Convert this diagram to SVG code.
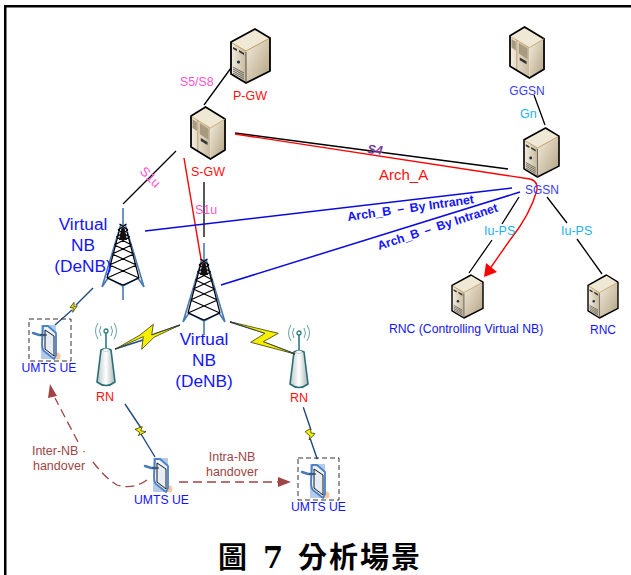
<svg xmlns="http://www.w3.org/2000/svg" xmlns:xlink="http://www.w3.org/1999/xlink" width="631" height="575" viewBox="0 0 631 575">
<style>
text{font-family:"Liberation Sans",Arial,sans-serif}
.red{fill:#ff1010}.blue{fill:#1414ff}.sn{fill:#3a3aff}.pink{fill:#ff55cc}.cyan{fill:#1eb0f0}.brown{fill:#a04545}
.mid{text-anchor:middle}
.bk{stroke:#000;stroke-width:1.3;fill:none}
.rd{stroke:#ff0000;stroke-width:1.4;fill:none}
.bl{stroke:#0a0ae0;stroke-width:1.5;fill:none}
.ho{stroke:#a04545;stroke-width:1.3;fill:none;stroke-dasharray:9 5}
.bolt{stroke:#1f4a80;stroke-width:1.4;fill:none}
.boltf{fill:#f4f000;stroke:#3a3a10;stroke-width:.8;stroke-linejoin:round}
</style>
<defs>
<linearGradient id="rf" x1="0" y1="0" x2="1" y2="1"><stop offset="0" stop-color="#f4eddc"/><stop offset="1" stop-color="#b0a080"/></linearGradient>
<linearGradient id="lf" x1="0" y1="0" x2="1" y2="0"><stop offset="0" stop-color="#f3eee0"/><stop offset="1" stop-color="#c8b99c"/></linearGradient>
<linearGradient id="rn" x1="0" y1="0" x2="1" y2="0"><stop offset="0" stop-color="#b9c4c4"/><stop offset=".5" stop-color="#fff"/><stop offset="1" stop-color="#a8b4b4"/></linearGradient>
<symbol id="srvA" viewBox="0 0 39 54" preserveAspectRatio="none" overflow="visible">
<path d="M0 13 24 0 39 9 15 22Z" fill="#efe8d4"/>
<path d="M0 13 15 22V54L0 45Z" fill="url(#lf)"/>
<path d="M15 22 39 9V42L15 54Z" fill="url(#rf)"/>
<path d="M1 14 15 22 39 9" fill="none" stroke="#c09a60" stroke-width="1"/>
<path d="M0 13 24 0 39 9V42L15 54 0 45Z" fill="none" stroke="#000" stroke-width="1.800" stroke-linejoin="round"/>
<path d="M15 23V54" fill="none" stroke="#333" stroke-width=".8"/>
<path d="M2 18 6 20V22L2 20ZM8 21 13 24V26L8 23Z" fill="#333"/><circle cx="7.500" cy="33" r="1.600" fill="#234"/>
<path d="M2 38 13 44M2 40 13 46M2 42 13 48M2 44 13 50" stroke="#444" stroke-width=".8"/>
</symbol>
<symbol id="srvB" viewBox="0 0 36 52" preserveAspectRatio="none" overflow="visible">
<path d="M0 9 15 0 35 12 20 21Z" fill="#efe8d4"/>
<path d="M0 9 20 21V52L0 40Z" fill="url(#lf)"/>
<path d="M20 21 35 12V43L20 52Z" fill="url(#rf)"/>
<path d="M7 13V44" stroke="#c8b088" stroke-width="1.500"/>
<path d="M1.500 12 6 15V24L1.500 21ZM9 16 18 22V33L9 27Z" fill="#a89a80"/>
<path d="M10 31 17 35V38L10 34Z" fill="#333"/>
<path d="M0 9 15 0 35 12V43L20 52 0 40Z" fill="none" stroke="#000" stroke-width="1.800" stroke-linejoin="round"/>
<path d="M1 10 20 21 35 12" fill="none" stroke="#c09a60" stroke-width=".8"/>
</symbol>
<g id="tower" fill="none">
<path d="M0 0V30M-21 79-2 16M21 79 2 16M-15 70 0 78 15 70M-21 79-15 70M21 79 15 70M0 78V92" stroke="#4a7ab5" stroke-width="1.600"/>
<path d="M-3.500 16 5 22M3.500 16-5 22M-5 22 6.700 29M5 22-6.700 29M-6.700 29 8.600 37M6.700 29-8.600 37M-8.600 37 10.800 46M8.600 37-10.800 46M-10.800 46 13.500 57M10.800 46-13.500 57M-13.500 57 16 70M13.500 57-16 70M-16 70 0 77 16 70M-16 70-3 20M16 70 3 20" stroke="#000" stroke-width="1.200"/>
<path d="M-1.500 20H1.500L4 32H-4Z" fill="#111"/>
</g>
<g id="ant">
<path d="M0 4V20" stroke="#2c7a85" stroke-width="1.600"/>
<circle cx="0" cy="2" r="2" fill="none" stroke="#2c7a85" stroke-width="1.300"/>
<path d="M-5-3Q-8 2-5 7M5-3Q8 2 5 7M-8-6Q-13 2-8 10M8-6Q13 2 8 10" fill="none" stroke="#6aa0a8" stroke-width="1"/>
<path d="M-5 21Q0 18 5 21L9 53Q0 60-9 53Z" fill="url(#rn)" stroke="#2c6f78" stroke-width="1.600"/>
<ellipse cx="0" cy="21" rx="3" ry="1.500" fill="#fff" stroke="#8aa" stroke-width=".5"/>
</g>
<g id="ue">
<rect x="0" y="1" width="15" height="34" fill="#b4cbea"/>
<ellipse cx="16" cy="32" rx="3.500" ry="3.500" fill="#f6c8a0"/>
<path d="M2 2H7L15 9V31L13 35 3 27Q1 25 1 20Z" fill="#eef3f8" stroke="#4a80c8" stroke-width="1.800" stroke-linejoin="round"/>
<path d="M4 6 13 12V32L4 25Z" fill="#e6edf5" stroke="#000" stroke-width=".9"/>
<path d="M-8 9-2 11H4" stroke="#4a7ab5" stroke-width="2.600" fill="none" stroke-linecap="round"/>
<path d="M-1 11H6" stroke="#333" stroke-width="1" fill="none"/>
</g>
</defs>
<rect width="631" height="575" fill="#fff"/>
<g id="frame" fill="#000"><rect x="4" y="5" width="627" height="2.500"/><rect x="4" y="5" width="2.500" height="570"/></g>
<g id="connectors">
<path class="bk" d="M231 68 204 105M176 151 123 204M204 182V237M235 133 508 169M534 95 545 125M519 197 502 224M492 240 469 273M547 197 567 223M577 239 602 274"/>
<path class="rd" d="M184 158 202 265M235 134 530 179Q538 181 537 190Q530 215 510 240L489 270"/>
<path d="M484 277 486 263 497 272Z" fill="#ff0000"/>
<path class="bl" d="M145 231 512 188M221 285 520 192"/>
<path class="ho" d="M147 480Q133 490 117 485Q105 478 93 462M78 442 55 398"/>
<path d="M50 384 57 396 48 398Z" fill="#a04545"/>
<path class="ho" d="M179 482H278"/>
<path d="M291 482 278 477V487Z" fill="#a04545"/>
</g>
<g id="pgw"><use xlink:href="#srvA" href="#srvA" x="231" y="29" width="39" height="54"/><text class="red mid" x="250" y="100" font-size="12.500">P-GW</text></g>
<g id="sgw"><use href="#srvB" x="191" y="107" width="35" height="52"/><text class="red mid" x="208" y="176" font-size="12.500">S-GW</text></g>
<g id="ggsn"><use href="#srvB" x="510" y="27" width="35" height="51"/><text class="sn mid" x="527" y="95" font-size="12">GGSN</text></g>
<g id="sgsn"><use href="#srvA" x="524" y="128" width="35" height="49"/><text class="sn mid" x="542" y="194" font-size="12">SGSN</text></g>
<g id="rnc1"><use href="#srvA" x="452" y="275" width="31" height="43"/><text class="blue" x="389" y="333" font-size="12.200">RNC (Controlling Virtual NB)</text></g>
<g id="rnc2"><use href="#srvA" x="588" y="275" width="30" height="43"/><text class="blue mid" x="603" y="334" font-size="12">RNC</text></g>
<g id="denb1"><use href="#tower" x="123" y="208"/><g class="blue mid" font-size="17.300"><text x="83" y="230">Virtual</text><text x="83" y="251">NB</text><text x="83" y="272">(DeNB)</text></g></g>
<g id="denb2"><use href="#tower" x="204" y="243"/><g class="blue mid" font-size="17.300"><text x="204" y="345">Virtual</text><text x="204" y="366">NB</text><text x="204" y="387">(DeNB)</text></g></g>
<g id="rn1"><use href="#ant" x="106" y="329"/><text class="red mid" x="105" y="401" font-size="12.500">RN</text></g>
<g id="rn2"><use href="#ant" x="299" y="331"/><text class="red mid" x="299" y="402" font-size="12.500">RN</text></g>
<g id="bolts">
<path class="bolt" d="M93 288 76 305M72 310 55 325M180 325 152 335M143 340 115 349M230 322 265 333M263 342 295 354M125 404 141 428M141 434 155 457M303.300 407.300 311 430M310 438 317.300 459.300"/>
<path class="boltf" d="M74 302.300 70 307.700 73.300 307.700 72.700 312.300 77.300 305.700 74 306.700Z"/>
<path class="boltf" d="M115 349.300 140 335 153.300 324.300 151.700 335 180 325 154 337.300 141.700 349.300 143.300 336.700Z"/>
<path class="boltf" d="M230 321.700 278.300 333.300 263.300 341.700 295 354 250.700 342.300 265 333.300Z"/>
<path class="boltf" d="M135 429.300 142.300 426.700 140.700 430.700 146 431.700 138.300 435.700 140 432.700Z"/>
<path class="boltf" d="M305 431.700 310.500 428.500 311 433 315 433.500 309 440 310 436Z"/>
</g>
<g id="ue1"><rect x="29" y="319" width="42" height="42" fill="none" stroke="#333" stroke-dasharray="5 3"/><use href="#ue" x="41" y="324"/><text class="blue" x="21.500" y="372" font-size="12.200">UMTS UE</text></g>
<g id="ue2"><use href="#ue" x="153" y="457"/><text class="blue" x="134" y="504" font-size="12.200">UMTS UE</text></g>
<g id="ue3"><rect x="298" y="458" width="41" height="42" fill="none" stroke="#333" stroke-dasharray="5 3"/><use href="#ue" x="310" y="463"/><text class="blue" x="291" y="511" font-size="12.200">UMTS UE</text></g>
<g id="labels">
<text class="pink" x="180" y="86" font-size="12.300">S5/S8</text>
<text class="pink" transform="translate(139 172) rotate(45)" font-size="13">S1u</text>
<text class="pink" x="195" y="214" font-size="12.500">S1u</text>
<text x="367" y="153" font-size="12.500" font-weight="bold" font-style="italic" fill="#7a3a9a" transform="rotate(7 367 153)">S4</text>
<text class="red" x="379" y="180" font-size="15">Arch_A</text>
<text class="blue" transform="translate(348 221) rotate(-8)" font-size="12.400" font-weight="bold">Arch_B － By Intranet</text>
<text class="blue" transform="translate(379 250) rotate(-18)" font-size="12.200" font-weight="bold">Arch_B － By Intranet</text>
<text class="cyan" x="520" y="118" font-size="12.500">Gn</text>
<text class="cyan" x="484" y="235" font-size="12.500">Iu-PS</text>
<text class="cyan" x="561" y="235" font-size="12.500">Iu-PS</text>
<g class="brown mid" font-size="12.500"><text x="59" y="455">Inter-NB ·</text><text x="59" y="470">handover</text><text x="232" y="461">Intra-NB</text><text x="232" y="476">handover</text></g>
</g>
<g id="caption" font-size="29" font-weight="bold">
<text x="218" y="568" style="font-family:'Noto Sans CJK TC',sans-serif">圖</text>
<text x="263" y="568" style="font-family:'DejaVu Serif',serif">7</text>
<text x="298" y="568" letter-spacing="2" style="font-family:'Noto Sans CJK TC',sans-serif">分析場景</text>
</g>
</svg>
